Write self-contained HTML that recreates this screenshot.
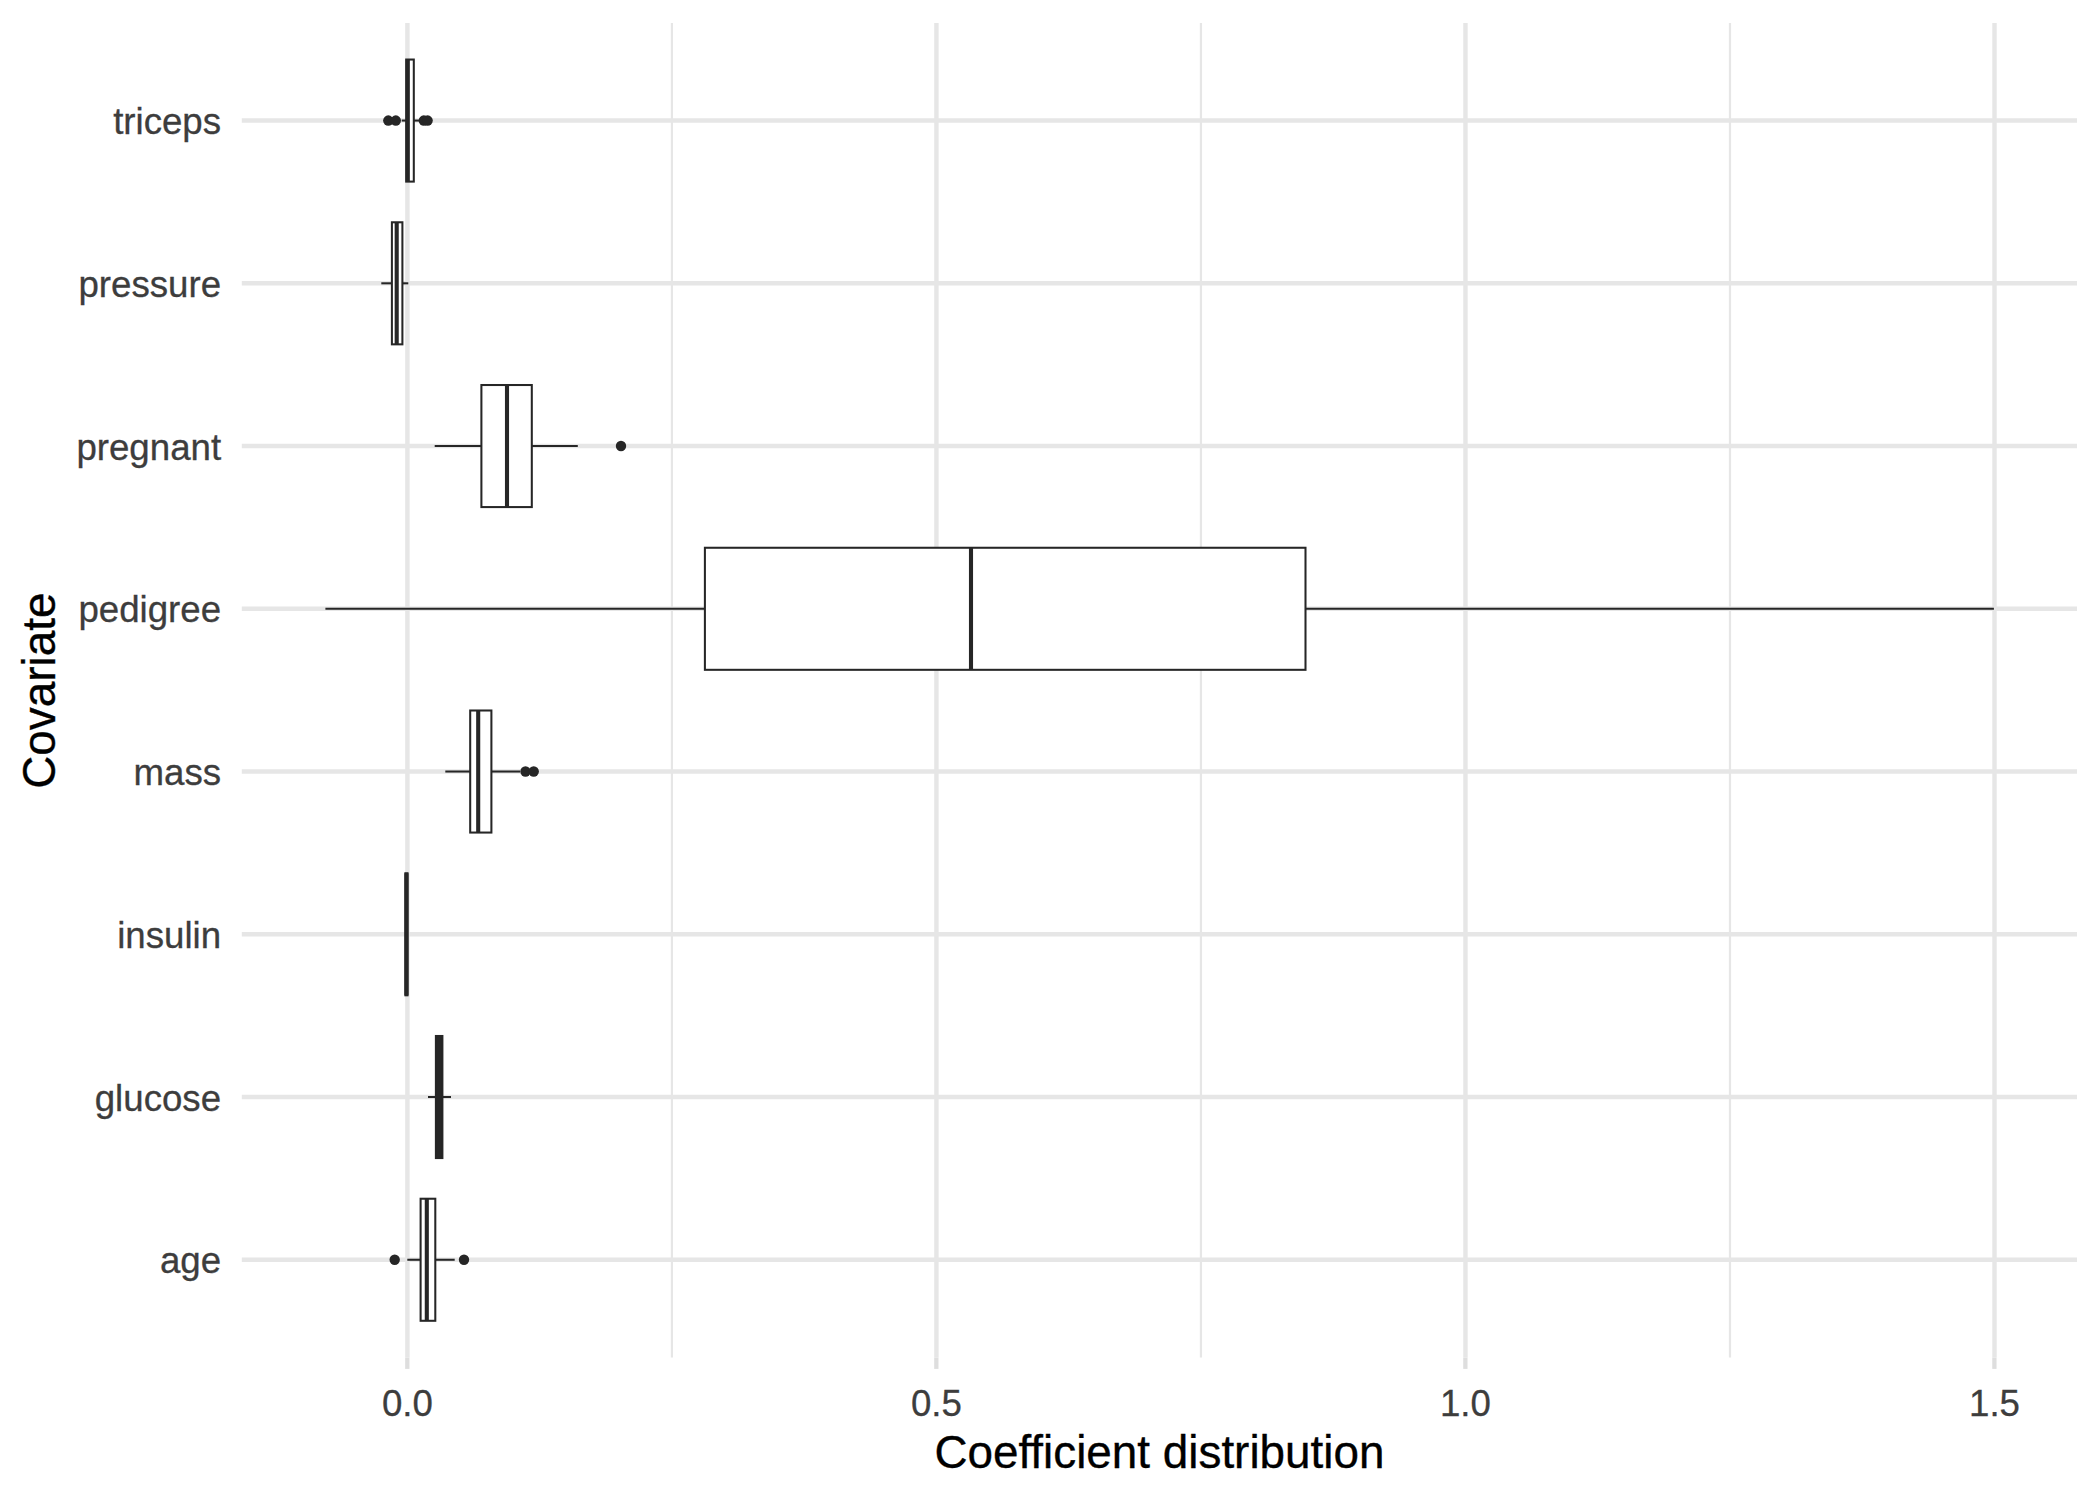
<!DOCTYPE html>
<html lang="en"><head><meta charset="utf-8"><title>Coefficient distribution</title>
<style>html,body{margin:0;padding:0;background:#fff}svg{display:block}</style></head>
<body>
<svg width="2100" height="1500" viewBox="0 0 2100 1500">
<rect width="2100" height="1500" fill="#fff"/>
<g stroke="#E6E6E6" stroke-width="2.2" fill="none">
<line x1="671.92" x2="671.92" y1="22.92" y2="1357.40"/>
<line x1="1200.95" x2="1200.95" y1="22.92" y2="1357.40"/>
<line x1="1729.98" x2="1729.98" y1="22.92" y2="1357.40"/>
</g>
<g stroke="#E6E6E6" stroke-width="4.45" fill="none">
<line x1="407.40" x2="407.40" y1="22.92" y2="1357.40"/>
<line x1="407.30" x2="407.30" y1="1357.60" y2="1368.90" stroke="#DEDEDE" stroke-width="4.3"/>
<line x1="936.43" x2="936.43" y1="22.92" y2="1357.40"/>
<line x1="936.33" x2="936.33" y1="1357.60" y2="1368.90" stroke="#DEDEDE" stroke-width="4.3"/>
<line x1="1465.47" x2="1465.47" y1="22.92" y2="1357.40"/>
<line x1="1465.37" x2="1465.37" y1="1357.60" y2="1368.90" stroke="#DEDEDE" stroke-width="4.3"/>
<line x1="1994.50" x2="1994.50" y1="22.92" y2="1357.40"/>
<line x1="1994.40" x2="1994.40" y1="1357.60" y2="1368.90" stroke="#DEDEDE" stroke-width="4.3"/>
<line x1="241.80" x2="2077.00" y1="120.56" y2="120.56"/>
<line x1="241.80" x2="2077.00" y1="283.31" y2="283.31"/>
<line x1="241.80" x2="2077.00" y1="446.05" y2="446.05"/>
<line x1="241.80" x2="2077.00" y1="608.79" y2="608.79"/>
<line x1="241.80" x2="2077.00" y1="771.53" y2="771.53"/>
<line x1="241.80" x2="2077.00" y1="934.27" y2="934.27"/>
<line x1="241.80" x2="2077.00" y1="1097.01" y2="1097.01"/>
<line x1="241.80" x2="2077.00" y1="1259.76" y2="1259.76"/>
</g>
<g stroke="#262626" stroke-width="2.05" fill="none">
<circle cx="388.30" cy="120.56" r="5.2" fill="#262626" stroke="none"/>
<circle cx="395.80" cy="120.56" r="5.2" fill="#262626" stroke="none"/>
<circle cx="423.80" cy="120.56" r="5.2" fill="#262626" stroke="none"/>
<circle cx="427.60" cy="120.56" r="5.2" fill="#262626" stroke="none"/>
<line x1="401.70" x2="406.20" y1="120.56" y2="120.56"/>
<line x1="413.80" x2="419.20" y1="120.56" y2="120.56"/>
<rect x="406.20" y="59.54" width="7.60" height="122.06" fill="#fff"/>
<line x1="407.80" x2="407.80" y1="59.54" y2="181.59" stroke-width="4.1"/>
</g>
<g stroke="#262626" stroke-width="2.05" fill="none">
<line x1="381.30" x2="391.90" y1="283.31" y2="283.31"/>
<line x1="402.40" x2="408.30" y1="283.31" y2="283.31"/>
<rect x="391.90" y="222.28" width="10.50" height="122.06" fill="#fff"/>
<line x1="396.70" x2="396.70" y1="222.28" y2="344.33" stroke-width="4.1"/>
</g>
<g stroke="#262626" stroke-width="2.05" fill="none">
<circle cx="621.00" cy="446.05" r="5.2" fill="#262626" stroke="none"/>
<line x1="434.70" x2="481.40" y1="446.05" y2="446.05"/>
<line x1="531.80" x2="577.80" y1="446.05" y2="446.05"/>
<rect x="481.40" y="385.02" width="50.40" height="122.06" fill="#fff"/>
<line x1="507.00" x2="507.00" y1="385.02" y2="507.08" stroke-width="4.1"/>
</g>
<g stroke="#262626" stroke-width="2.05" fill="none">
<line x1="325.40" x2="704.90" y1="608.79" y2="608.79"/>
<line x1="1305.50" x2="1993.90" y1="608.79" y2="608.79"/>
<rect x="704.90" y="547.76" width="600.60" height="122.06" fill="#fff"/>
<line x1="971.00" x2="971.00" y1="547.76" y2="669.82" stroke-width="4.1"/>
</g>
<g stroke="#262626" stroke-width="2.05" fill="none">
<circle cx="525.50" cy="771.53" r="5.2" fill="#262626" stroke="none"/>
<circle cx="533.70" cy="771.53" r="5.2" fill="#262626" stroke="none"/>
<line x1="445.30" x2="470.20" y1="771.53" y2="771.53"/>
<line x1="491.40" x2="520.00" y1="771.53" y2="771.53"/>
<rect x="470.20" y="710.50" width="21.20" height="122.06" fill="#fff"/>
<line x1="478.20" x2="478.20" y1="710.50" y2="832.56" stroke-width="4.1"/>
</g>
<g stroke="#262626" stroke-width="2.05" fill="none">
<line x1="405.40" x2="405.40" y1="934.27" y2="934.27"/>
<line x1="407.50" x2="407.50" y1="934.27" y2="934.27"/>
<rect x="405.40" y="873.24" width="2.10" height="122.06" fill="#262626"/>
<line x1="406.45" x2="406.45" y1="873.24" y2="995.30" stroke-width="4.1"/>
</g>
<g stroke="#262626" stroke-width="2.05" fill="none">
<line x1="428.00" x2="435.90" y1="1097.01" y2="1097.01"/>
<line x1="442.40" x2="451.00" y1="1097.01" y2="1097.01"/>
<rect x="435.90" y="1035.99" width="6.50" height="122.06" fill="#262626"/>
<line x1="439.15" x2="439.15" y1="1035.99" y2="1158.04" stroke-width="4.1"/>
</g>
<g stroke="#262626" stroke-width="2.05" fill="none">
<circle cx="394.70" cy="1259.76" r="5.2" fill="#262626" stroke="none"/>
<circle cx="464.00" cy="1259.76" r="5.2" fill="#262626" stroke="none"/>
<line x1="407.30" x2="420.60" y1="1259.76" y2="1259.76"/>
<line x1="435.30" x2="454.70" y1="1259.76" y2="1259.76"/>
<rect x="420.60" y="1198.73" width="14.70" height="122.06" fill="#fff"/>
<line x1="426.80" x2="426.80" y1="1198.73" y2="1320.78" stroke-width="4.1"/>
</g>
<g font-family="'Liberation Sans', Arial, Helvetica, sans-serif" font-size="36.67" fill="#3D3D3D" stroke="#3D3D3D" stroke-width="0.3">
 <text x="221.1" y="134.16" text-anchor="end">triceps</text>
 <text x="221.1" y="296.91" text-anchor="end">pressure</text>
 <text x="221.1" y="459.65" text-anchor="end">pregnant</text>
 <text x="221.1" y="622.39" text-anchor="end">pedigree</text>
 <text x="221.1" y="785.13" text-anchor="end">mass</text>
 <text x="221.1" y="947.87" text-anchor="end">insulin</text>
 <text x="221.1" y="1110.61" text-anchor="end">glucose</text>
 <text x="221.1" y="1273.36" text-anchor="end">age</text>
<text x="407.40" y="1416.0" text-anchor="middle">0.0</text>
<text x="936.43" y="1416.0" text-anchor="middle">0.5</text>
<text x="1465.47" y="1416.0" text-anchor="middle">1.0</text>
<text x="1994.50" y="1416.0" text-anchor="middle">1.5</text>
</g>
<g font-family="'Liberation Sans', Arial, Helvetica, sans-serif" font-size="45.83" fill="#000" stroke="#000" stroke-width="0.35">
<text x="1159.4" y="1468" text-anchor="middle">Coefficient distribution</text>
<text transform="translate(54.7,690.7) rotate(-90)" text-anchor="middle">Covariate</text>
</g>
</svg>
</body></html>
